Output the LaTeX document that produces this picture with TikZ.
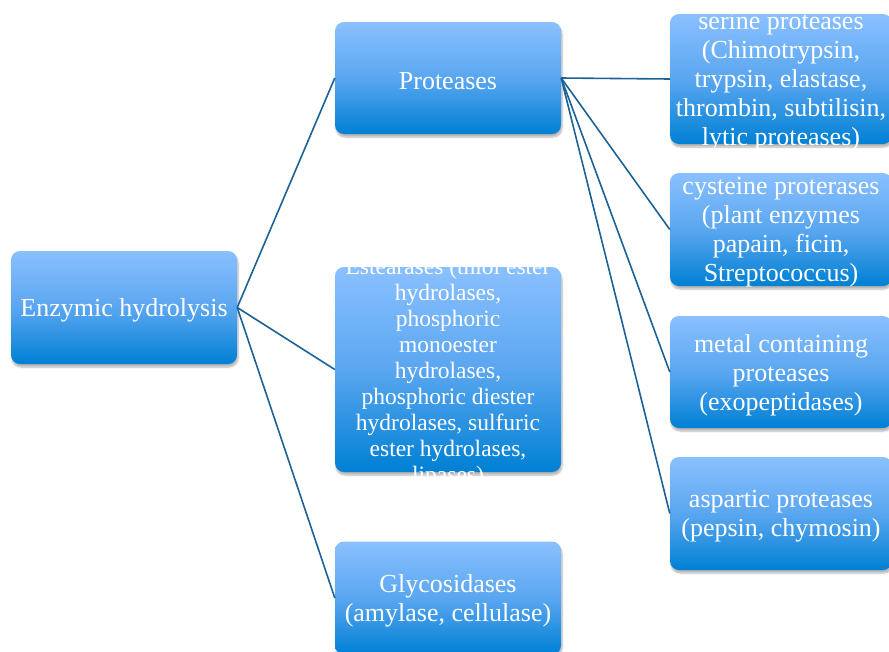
\documentclass[tikz,border=0pt]{standalone}
\usepackage{fontspec}
\setmainfont{Liberation Serif}
\usetikzlibrary{shadows.blur}
\definecolor{boxtop}{RGB}{138,192,255}
\definecolor{boxmid}{RGB}{90,166,240}
\definecolor{boxbot}{RGB}{0,128,212}
\definecolor{linkblue}{RGB}{28,98,150}
\tikzset{
	box/.style={rounded corners=9pt, top color=boxtop, bottom color=boxbot, middle color=boxmid,
		blur shadow={shadow xshift=1pt, shadow yshift=-3pt, shadow opacity=30, shadow blur steps=6},
		minimum width=226pt, minimum height=113pt, inner sep=0pt},
	txt/.style={text=white, align=center, inner sep=0pt, yshift=-3pt, font=\fontsize{26}{29}\selectfont},
	txtsmall/.style={txt, font=\fontsize{23.5}{26}\selectfont},
	link/.style={draw=linkblue, line width=1.6pt},
}

\begin{document}
\begin{tikzpicture}[x=1pt, y=-1pt]
		%%%%% START %%%%%
		\useasboundingbox (0, 0) rectangle (889, 651);
		
		\node[box, label={[txt, name=rootT]center:Enzymic hydrolysis}] (root) at (124, 307.5) {};
		
		\node[box, minimum height=112pt, label={[txt, name=proT]center:Proteases}] (pro) at (448, 78) {};
		\node[box, minimum height=205pt, label={[txtsmall, name=estT]center:{Estearases (thiol ester\\hydrolases,\\phosphoric\\monoester\\hydrolases,\\phosphoric diester\\hydrolases, sulfuric\\ester hydrolases,\\lipases)}}] (est) at (448, 369.5) {};
		\node[box, label={[txt, name=glyT]center:{Glycosidases\\(amylase, cellulase)}}] (gly) at (448, 598) {};
		
		\node[box, minimum width=222pt, minimum height=130pt, label={[txt, name=serT]center:{serine proteases\\(Chimotrypsin,\\trypsin, elastase,\\thrombin, subtilisin,\\lytic proteases)}}] (ser) at (781, 79) {};
		\node[box, minimum width=222pt, label={[txt, name=cysT]center:{cysteine proterases\\(plant enzymes\\papain, ficin,\\Streptococcus)}}] (cys) at (781, 229.5) {};
		\node[box, minimum width=222pt, minimum height=112pt, label={[txt, name=metT]center:{metal containing\\proteases\\(exopeptidases)}}] (met) at (781, 372) {};
		\node[box, minimum width=222pt, label={[txt, name=aspT]center:{aspartic proteases\\(pepsin, chymosin)}}] (asp) at (781, 513.5) {};
		
		\draw[link] (root.east) -- (pro.west);
		\draw[link] (root.east) -- (est.west);
		\draw[link] (root.east) -- (gly.west);
		
		\draw[link] (pro.east) -- (ser.west);
		\draw[link] (pro.east) -- (cys.west);
		\draw[link] (pro.east) -- (met.west);
		\draw[link] (pro.east) -- (asp.west);
		%%%%% END %%%%%
\end{tikzpicture}
\end{document}
